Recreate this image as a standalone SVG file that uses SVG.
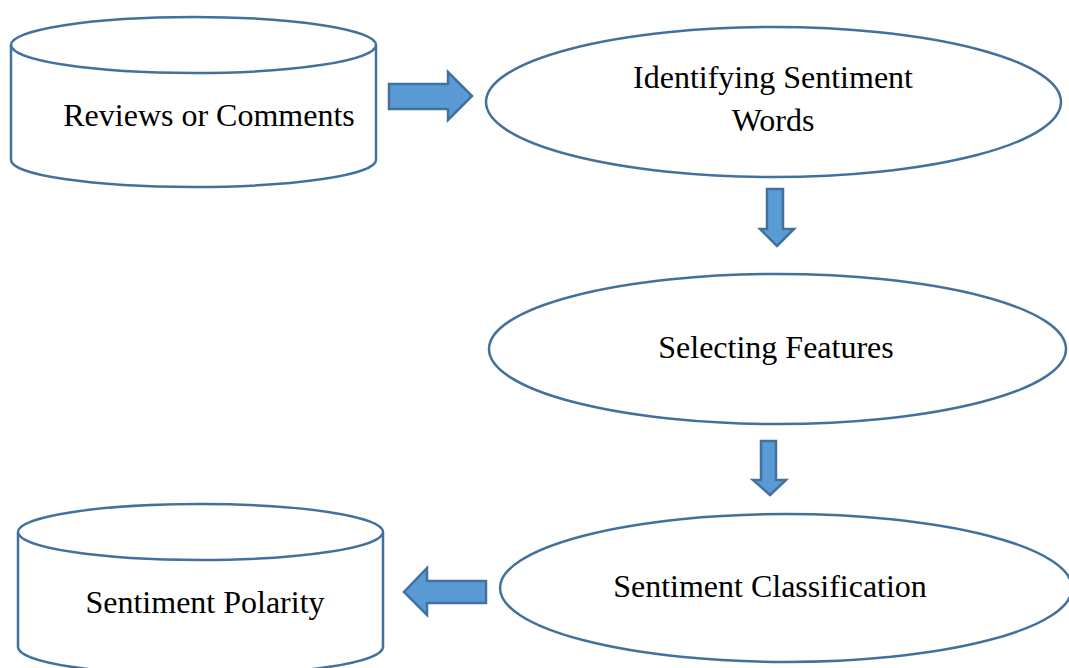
<svg xmlns="http://www.w3.org/2000/svg" width="1069" height="668" viewBox="0 0 1069 668">
<style>
.sh{fill:#fff;stroke:#41719C;stroke-width:2.5}
.ar{fill:#5B9BD5;stroke:#41719C;stroke-width:2.5;stroke-linejoin:miter}
.t{font-family:"Liberation Serif","Times New Roman",serif;font-size:32px;fill:#000;text-anchor:middle}
</style>
<rect width="1069" height="668" fill="#fff"/>
<g id="reviews">
<path class="sh" d="M11,45 L11,160 A182.5,27 0 0 0 376,160 L376,45"/>
<ellipse class="sh" cx="193.5" cy="45" rx="182.5" ry="28"/>
<text class="t" x="209" y="126">Reviews or Comments</text>
</g>
<g id="identify">
<ellipse class="sh" cx="773.5" cy="102" rx="287.5" ry="75"/>
<text class="t" x="773" y="88">Identifying Sentiment</text>
<text class="t" x="773" y="131">Words</text>
</g>
<g id="selecting">
<ellipse class="sh" cx="777.5" cy="349" rx="288.5" ry="75"/>
<text class="t" x="776" y="358">Selecting Features</text>
</g>
<g id="classification">
<ellipse class="sh" cx="786" cy="588" rx="286" ry="74"/>
<text class="t" x="770" y="597">Sentiment Classification</text>
</g>
<g id="polarity">
<path class="sh" d="M18,532 L18,647 A182.5,28 0 0 0 383,647 L383,532"/>
<ellipse class="sh" cx="200.5" cy="532" rx="182.5" ry="28"/>
<text class="t" x="205" y="613">Sentiment Polarity</text>
</g>
<g id="connectors">
<polygon class="ar" points="389,84 448,84 448,72 472,96 448,120 448,109 389,109"/>
<polygon class="ar" points="767,189 783,189 783,229 794,229 777,246 760,229 767,229"/>
<polygon class="ar" points="761,441 776,441 776,480 786,480 770,495 753,480 761,480"/>
<polygon class="ar" points="486,581 486,603 427,603 427,615 404,592 427,568 427,581"/>
</g>
</svg>
